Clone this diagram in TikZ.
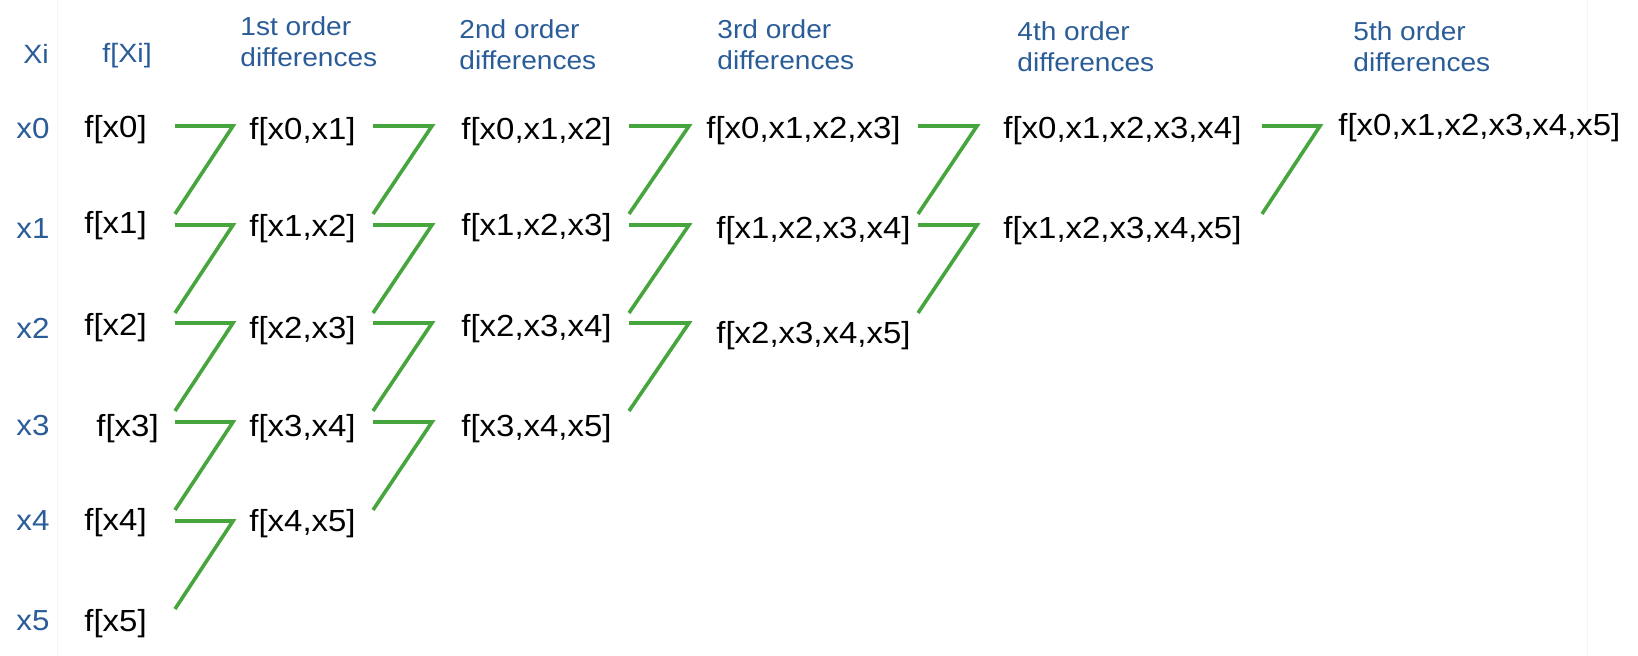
\documentclass[tikz,border=0pt]{standalone}
\usepackage{fontspec}
\setmainfont{Liberation Sans}[FakeStretch=1.08]
\definecolor{hdrblue}{RGB}{42,92,152}
\definecolor{zgreen}{RGB}{70,165,60}
\begin{document}
\begin{tikzpicture}[x=0.5pt,y=-0.5pt,
  val/.style={anchor=west,inner sep=0pt,font=\fontsize{15.25}{18}\selectfont},
  rowlab/.style={anchor=west,inner sep=0pt,text=hdrblue,font=\fontsize{14.5}{17}\selectfont},
  toplab/.style={anchor=west,inner sep=0pt,text=hdrblue,font=\fontsize{13.25}{16}\selectfont},
  hdr/.style={anchor=base west,inner sep=0pt,text=hdrblue,align=left,font=\fontsize{13}{15.5}\selectfont},
  zig/.style={draw=zgreen,line width=1.8pt,line join=miter,line cap=butt},
  grid/.style={draw=black!4,line width=0.5pt}]
\useasboundingbox (0,0) rectangle (1638,656);
% faint sheet grid lines
\coordinate (g1t) at (57,0); \coordinate (g1b) at (57,656);
\coordinate (g2t) at (1587,0); \coordinate (g2b) at (1587,656);
\draw[grid] (g1t) -- (g1b);
\draw[grid] (g2t) -- (g2b);
% headers (base anchor = baseline of the last line)
\node[toplab] (hXi) at (23,54) {Xi};
\node[toplab] (hfXi) at (102,56) {f[Xi]};
\node[hdr] (h1) at (240,67) {1st order\\differences};
\node[hdr] (h2) at (459,70) {2nd order\\differences};
\node[hdr] (h3) at (717,70) {3rd order\\differences};
\node[hdr] (h4) at (1017,72) {4th order\\differences};
\node[hdr] (h5) at (1353,72) {5th order\\differences};
% row labels
\node[rowlab] (r0) at (16,129) {x0};
\node[rowlab] (r1) at (16,229) {x1};
\node[rowlab] (r2) at (16,328) {x2};
\node[rowlab] (r3) at (16,426) {x3};
\node[rowlab] (r4) at (16,521) {x4};
\node[rowlab] (r5) at (16,621) {x5};
% column 0
\node[val] (c0r0) at (84,130) {f[x0]};
\node[val] (c0r1) at (84,226) {f[x1]};
\node[val] (c0r2) at (84,328) {f[x2]};
\node[val] (c0r3) at (96,429) {f[x3]};
\node[val] (c0r4) at (84,523) {f[x4]};
\node[val] (c0r5) at (84,624) {f[x5]};
% column 1
\node[val] (c1r0) at (249,132) {f[x0,x1]};
\node[val] (c1r1) at (249,229) {f[x1,x2]};
\node[val] (c1r2) at (249,331) {f[x2,x3]};
\node[val] (c1r3) at (249,429) {f[x3,x4]};
\node[val] (c1r4) at (249,524) {f[x4,x5]};
% column 2
\node[val] (c2r0) at (461,132) {f[x0,x1,x2]};
\node[val] (c2r1) at (461,228) {f[x1,x2,x3]};
\node[val] (c2r2) at (461,329) {f[x2,x3,x4]};
\node[val] (c2r3) at (461,429) {f[x3,x4,x5]};
% column 3
\node[val] (c3r0) at (706,131) {f[x0,x1,x2,x3]};
\node[val] (c3r1) at (716,231) {f[x1,x2,x3,x4]};
\node[val] (c3r2) at (716,336) {f[x2,x3,x4,x5]};
% column 4
\node[val] (c4r0) at (1003,131) {f[x0,x1,x2,x3,x4]};
\node[val] (c4r1) at (1003,231) {f[x1,x2,x3,x4,x5]};
% column 5
\node[val] (c5r0) at (1338,128) {f[x0,x1,x2,x3,x4,x5]};
% zig-zag connectors
\foreach \c/\xl/\xr/\n in {0/175/233/4,1/373/432/3,2/629/689/2,3/918/977/1,4/1262/1320/0}{
  \foreach \i/\y in {0/126,1/225,2/323,3/422,4/521}{
    \ifnum\i>\n\relax\else
      \coordinate (a\c\i) at (\xl,\y);
      \coordinate (b\c\i) at (\xr,\y);
      \coordinate (d\c\i) at (\xl,\y+88);
      \draw[zig] (a\c\i) -- (b\c\i) -- (d\c\i);
    \fi
  }
}
\end{tikzpicture}
\end{document}
